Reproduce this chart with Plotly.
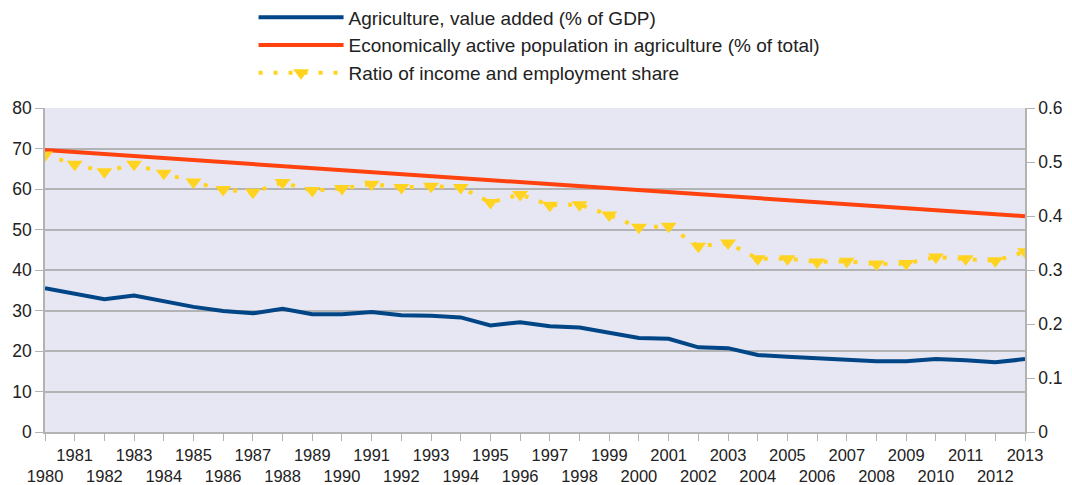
import plotly.graph_objects as go

years = list(range(1980, 2014))

value_added = [35.5, 34.1, 32.8, 33.7, 32.2, 30.9, 29.9, 29.3, 30.4, 29.1,
               29.1, 29.6, 28.8, 28.7, 28.3, 26.3, 27.1, 26.1, 25.8, 24.6,
               23.2, 23.0, 20.9, 20.7, 19.0, 18.6, 18.2, 17.9, 17.5, 17.5,
               18.0, 17.7, 17.2, 18.0]

active_pop = [69.6, 69.1, 68.6, 68.1, 67.6, 67.1, 66.6, 66.1, 65.6, 65.1,
              64.6, 64.1, 63.6, 63.1, 62.6, 62.1, 61.6, 61.1, 60.6, 60.1,
              59.6, 59.1, 58.6, 58.1, 57.7, 57.3, 56.8, 56.3, 55.8, 55.3,
              54.8, 54.3, 53.8, 53.3]

ratio = [0.513, 0.496, 0.482, 0.496, 0.479, 0.463, 0.449, 0.444, 0.462, 0.447,
         0.451, 0.459, 0.453, 0.455, 0.453, 0.425, 0.440, 0.420, 0.421, 0.402,
         0.379, 0.381, 0.344, 0.350, 0.321, 0.321, 0.315, 0.316, 0.311, 0.312,
         0.324, 0.321, 0.317, 0.334]

left_ticks = [0, 10, 20, 30, 40, 50, 60, 70, 80]
right_ticks = [0, 0.1, 0.2, 0.3, 0.4, 0.5, 0.6]
right_labels = ["0", "0.1", "0.2", "0.3", "0.4", "0.5", "0.6"]
year_labels = [str(y) if y % 2 == 1 else "<br>" + str(y) for y in years]

BLUE = "#004586"
RED = "#ff420e"
GOLD = "#ffd320"
GRID = "#b3b3b3"
FONT = "Liberation Sans"
TXT = "#222222"
TICKFONT = dict(family=FONT, size=17.5, color=TXT)
XTICKFONT = dict(family=FONT, size=16.5, color=TXT)

fig = go.Figure()
fig.add_trace(go.Scatter(x=years, y=value_added, mode="lines",
                         name="Agriculture, value added (% of GDP)",
                         line=dict(color=BLUE, width=4), legendgroup="a"))
fig.add_trace(go.Scatter(x=years, y=active_pop, mode="lines",
                         name="Economically active population in agriculture (% of total)",
                         line=dict(color=RED, width=4), legendgroup="b"))
fig.add_trace(go.Scatter(x=years, y=ratio, mode="lines+markers", yaxis="y2",
                         name="Ratio of income and employment share",
                         line=dict(color=GOLD, width=4, dash="4px,11px"),
                         marker=dict(symbol="triangle-down", size=14, color=GOLD),
                         legendgroup="c"))

fig.update_layout(
    width=1064, height=477,
    margin=dict(l=37, r=47, t=100, b=53, autoexpand=False),
    paper_bgcolor="white",
    plot_bgcolor="#e7e7f3",
    font=dict(family=FONT, size=17.5, color=TXT),
    showlegend=True,
    legend=dict(xref="paper", yref="paper", x=0.2128, y=1.338,
                xanchor="left", yanchor="top", bgcolor="rgba(0,0,0,0)",
                itemwidth=85, tracegroupgap=0, traceorder="grouped",
                font=dict(family=FONT, size=19, color=TXT)),
    xaxis=dict(range=[1980, 2013], tickmode="array", tickvals=years,
               ticktext=year_labels, showgrid=False, showline=True,
               linecolor=GRID, linewidth=1.5, ticks="outside", ticklen=7,
               tickcolor=GRID, zeroline=False, tickangle=0,
               tickfont=XTICKFONT),
    yaxis=dict(range=[0, 80], tickvals=left_ticks, showgrid=True,
               gridcolor=GRID, gridwidth=1.5, showline=True, linecolor=GRID,
               linewidth=1.5, ticks="outside", ticklen=8, tickcolor=GRID,
               zeroline=False, tickfont=TICKFONT),
    yaxis2=dict(range=[0, 0.6], tickvals=right_ticks, ticktext=right_labels,
                overlaying="y", side="right", showgrid=False, showline=True,
                linecolor=GRID, linewidth=1.5, ticks="outside", ticklen=8,
                tickcolor=GRID, zeroline=False, tickfont=TICKFONT),
)

fig.write_html("out.html")
